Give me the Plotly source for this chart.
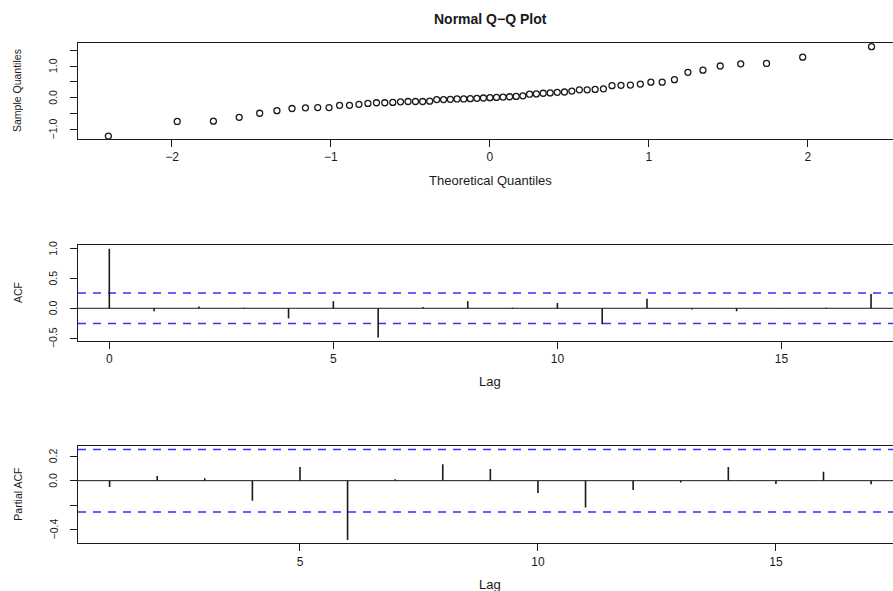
import plotly.graph_objects as go
from statistics import NormalDist

# ---- data -------------------------------------------------------------
# sorted sample quantiles of the residuals (n = 61)
sample_quantiles = [
    -1.21, -0.75, -0.74, -0.62, -0.49, -0.41, -0.34, -0.32, -0.31, -0.31,
    -0.24, -0.24, -0.21, -0.18, -0.16, -0.16, -0.15, -0.13, -0.12, -0.12,
    -0.12, -0.11, -0.06, -0.06, -0.05, -0.04, -0.04, -0.03, -0.02, -0.01,
    0.00, 0.01, 0.02, 0.03, 0.04, 0.06, 0.11, 0.12, 0.14, 0.15,
    0.17, 0.18, 0.21, 0.25, 0.25, 0.26, 0.28, 0.38, 0.39, 0.40,
    0.43, 0.49, 0.49, 0.57, 0.80, 0.87, 1.00, 1.07, 1.08, 1.28,
    1.61,
]

acf_lags = list(range(0, 18))
acf_values = [1.00, -0.05, 0.03, 0.01, -0.17, 0.12, -0.49, 0.02, 0.12, 0.01,
              0.09, -0.27, 0.16, -0.02, -0.05, -0.01, 0.01, 0.24]

pacf_lags = list(range(1, 18))
pacf_values = [-0.052, 0.038, 0.019, -0.164, 0.112, -0.485, 0.011, 0.134, 0.096,
               -0.100, -0.220, -0.077, -0.014, 0.112, -0.027, 0.074, -0.030]

conf_bound = 0.256  # approx. 95% white-noise band

qq_yticks = [-1.0, -0.5, 0.0, 0.5, 1.0, 1.5]
qq_yticktext = ["\u22121.0", "", "0.0", "", "1.0", ""]
qq_xticks = [-2, -1, 0, 1, 2]
qq_xticktext = ["\u22122", "\u22121", "0", "1", "2"]

acf_yticks = [-0.5, 0.0, 0.5, 1.0]
acf_yticktext = ["\u22120.5", "0.0", "0.5", "1.0"]
acf_xticks = [0, 5, 10, 15]

pacf_yticks = [-0.4, -0.2, 0.0, 0.2]
pacf_yticktext = ["\u22120.4", "", "0.0", "0.2"]
pacf_xticks = [5, 10, 15]

# theoretical normal quantiles, as qqnorm computes them (ppoints, a = 0.5)
n = len(sample_quantiles)
nd = NormalDist()
theoretical = [nd.inv_cdf((i + 0.5) / n) for i in range(n)]

# ---- layout geometry ---------------------------------------------------
W, H = 893, 591
FONT = "Liberation Sans, Arial, sans-serif"
INK = "#1a1a1a"
BAND = "#3030ff"

qq_xrange = [-2.591, 2.535]
qq_yrange = [-1.303, 1.726]
acf_xrange = [-0.699, 17.49]
acf_yrange = [-0.55, 1.064]
pacf_xrange = [0.336, 17.46]
pacf_yrange = [-0.513, 0.284]


def px_x(p):
    return p / W


def px_y(p):
    return 1 - p / H


x_dom = [px_x(78), 1.0]
dom_qq = [px_y(139), px_y(43)]
dom_acf = [px_y(341), px_y(245)]
dom_pacf = [px_y(543.3), px_y(446)]


def spikes(lags, vals):
    xs, ys = [], []
    for k, v in zip(lags, vals):
        xs += [k, k, None]
        ys += [0, v, None]
    return xs, ys


fig = go.Figure()

# Q-Q points
fig.add_trace(go.Scatter(
    x=theoretical, y=sample_quantiles, mode="markers",
    marker=dict(symbol="circle-open", size=6, color=INK, line=dict(width=1.3)),
    xaxis="x", yaxis="y", showlegend=False, hoverinfo="skip"))

# zero lines and white-noise bands for the correlogram panels
for xr, yr, rng in (("x2", "y2", acf_xrange), ("x3", "y3", pacf_xrange)):
    fig.add_trace(go.Scatter(x=rng, y=[0, 0], mode="lines",
                             line=dict(color=INK, width=1),
                             xaxis=xr, yaxis=yr, showlegend=False, hoverinfo="skip"))
    for b in (conf_bound, -conf_bound):
        fig.add_trace(go.Scatter(x=rng, y=[b, b], mode="lines",
                                 line=dict(color=BAND, width=1.5, dash="8px,7px"),
                                 xaxis=xr, yaxis=yr, showlegend=False, hoverinfo="skip"))

# ACF spikes
ax, ay = spikes(acf_lags, acf_values)
fig.add_trace(go.Scatter(x=ax, y=ay, mode="lines", line=dict(color=INK, width=1.6),
                         xaxis="x2", yaxis="y2", showlegend=False, hoverinfo="skip"))

# PACF spikes
px_, py_ = spikes(pacf_lags, pacf_values)
fig.add_trace(go.Scatter(x=px_, y=py_, mode="lines", line=dict(color=INK, width=1.6),
                         xaxis="x3", yaxis="y3", showlegend=False, hoverinfo="skip"))

tick_font = dict(family=FONT, size=12, color=INK)
YTICK_SIZE = 10.5


def xaxis_cfg(rng, ticks, text, anchor):
    return dict(domain=x_dom, range=rng, anchor=anchor, tickmode="array",
                tickvals=ticks, ticktext=text, ticks="outside", ticklen=7,
                tickwidth=1, tickcolor=INK, showline=True, linecolor=INK,
                linewidth=1, mirror=True, showgrid=False, zeroline=False,
                tickfont=tick_font, ticklabelstandoff=0)


def yaxis_cfg(dom, rng, ticks, anchor):
    # tick labels are drawn as rotated annotations below
    return dict(domain=dom, range=rng, anchor=anchor, tickmode="array",
                tickvals=ticks, showticklabels=False, ticks="outside", ticklen=7,
                tickwidth=1, tickcolor=INK, showline=True, linecolor=INK,
                linewidth=1, mirror=False, showgrid=False, zeroline=False)


annotations = []


def add_text(text, x, y, size, angle=0, bold=False, yref="paper"):
    annotations.append(dict(text=f"<b>{text}</b>" if bold else text,
                            xref="paper", yref=yref, x=x, y=y,
                            xanchor="center", yanchor="middle", showarrow=False,
                            textangle=angle,
                            font=dict(family=FONT, size=size, color=INK)))


# rotated y tick labels, placed on each panel's value axis
for yref, ticks, texts in (("y", qq_yticks, qq_yticktext),
                           ("y2", acf_yticks, acf_yticktext),
                           ("y3", pacf_yticks, pacf_yticktext)):
    for v, t in zip(ticks, texts):
        if t:
            add_text(t, px_x(53), v, YTICK_SIZE, angle=-90, yref=yref)

cx = px_x(490)
add_text("Normal Q\u2212Q Plot", cx, px_y(19), 14, bold=True)
add_text("Theoretical Quantiles", cx, px_y(180), 13)
add_text("Lag", cx, px_y(381), 13)
add_text("Lag", cx, px_y(584), 13)
add_text("Sample Quantiles", px_x(17), sum(dom_qq) / 2, 10.5, angle=-90)
add_text("ACF", px_x(18), sum(dom_acf) / 2, 10.5, angle=-90)
add_text("Partial ACF", px_x(18), sum(dom_pacf) / 2, 10.5, angle=-90)

fig.update_layout(
    width=W, height=H, margin=dict(l=0, r=0, t=0, b=0),
    paper_bgcolor="white", plot_bgcolor="white",
    xaxis=xaxis_cfg(qq_xrange, qq_xticks, qq_xticktext, "y"),
    yaxis=yaxis_cfg(dom_qq, qq_yrange, qq_yticks, "x"),
    xaxis2=xaxis_cfg(acf_xrange, acf_xticks, [str(t) for t in acf_xticks], "y2"),
    yaxis2=yaxis_cfg(dom_acf, acf_yrange, acf_yticks, "x2"),
    xaxis3=xaxis_cfg(pacf_xrange, pacf_xticks, [str(t) for t in pacf_xticks], "y3"),
    yaxis3=yaxis_cfg(dom_pacf, pacf_yrange, pacf_yticks, "x3"),
    annotations=annotations,
)

fig.write_html("out.html")
